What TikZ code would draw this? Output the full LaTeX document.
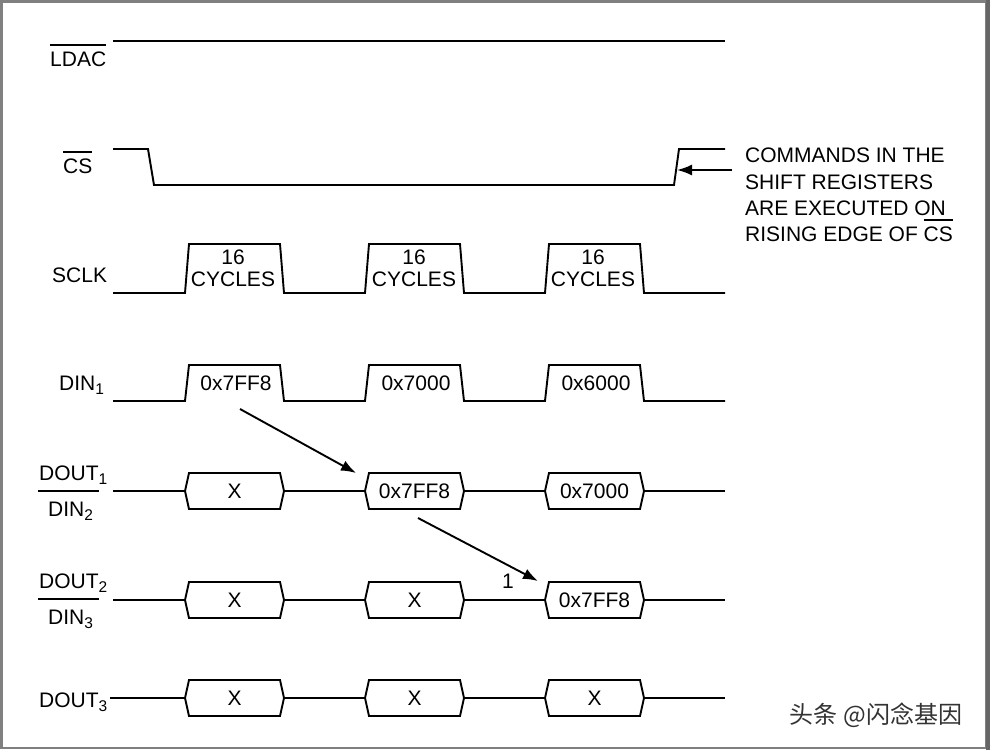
\documentclass[tikz,border=0pt]{standalone}
\usepackage{fontspec}
\setmainfont{Liberation Sans}
\newfontfamily\cjk{Noto Sans CJK SC}
\usetikzlibrary{arrows.meta}
\newcommand\sbs[1]{\raisebox{-4pt}{\fontsize{15.5}{15.5}\selectfont #1}}
\newcommand\ovl[1]{\setbox0\hbox{#1}\rlap{\raisebox{20.2pt}{\rule{\wd0}{1.8pt}}}\box0}
\begin{document}
\begin{tikzpicture}[x=1pt,y=-1pt,
  sig/.style={line width=1.9pt,line join=miter},
  lbl/.style={font=\fontsize{21}{25}\selectfont,inner sep=0pt},
  signame/.style={font=\fontsize{21}{25}\selectfont,inner sep=0pt,anchor=base west},
  arr/.style={line width=1.9pt,-{Latex[length=15pt,width=11pt]}}]
\useasboundingbox (0,0) rectangle (990,750);
\fill[white] (0,0) rectangle (990,750);
\draw[line width=2.5pt,black!50] (1.5,1.5) rectangle (986,748);
\fill[black!60] (986,0) rectangle (990,750);
\newcommand\hexbox[5]{\draw[sig] (#2,#4) -- (#2+4,#4-18) -- (#3-4,#4-18) -- (#3,#4) -- (#3-4,#4+18) -- (#2+4,#4+18) -- cycle;
  \node[lbl] (#1) at ({(#2+#3)/2},#4) {#5};}

% labels
\node[signame] (ldac) at (50,66) {\ovl{LDAC}};
\node[signame] (cs) at (63,173) {\ovl{CS}};
\node[signame] (sclk) at (52,282) {SCLK};
\node[signame] (din1) at (59,390) {DIN\sbs{1}};
\node[signame] (dout1) at (39,480) {DOUT\sbs{1}};
\node[signame] (din2) at (48,516) {DIN\sbs{2}};
\node[signame] (dout2) at (39,588) {DOUT\sbs{2}};
\node[signame] (din3) at (48,624) {DIN\sbs{3}};
\node[signame] (dout3) at (39,707) {DOUT\sbs{3}};
\draw[sig] (38,491) -- (99,491);
\draw[sig] (38,599) -- (99,599);

% LDAC
\draw[sig] (113,41) -- (725,41);
% CS
\draw[sig] (113,149) -- (148,149) -- (154,185) -- (674,185) -- (679,149) -- (725,149);
\coordinate (csedge) at (677,170);
\coordinate (csnote) at (732,170);
\draw[arr] (csnote) -- (csedge);
\node[signame] (n1) at (745,162) {COMMANDS IN THE};
\node[signame] (n2) at (745,189) {SHIFT REGISTERS};
\node[signame] (n3) at (745,215) {ARE EXECUTED ON};
\node[signame] (n4) at (745,241) {RISING EDGE OF \ovl{CS}};

% SCLK
\draw[sig] (113,293) -- (185,293) -- (189,244) -- (280,244) -- (284,293)
  -- (365,293) -- (369,244) -- (460,244) -- (464,293)
  -- (545,293) -- (549,244) -- (640,244) -- (644,293) -- (725,293);
\foreach \c/\n in {233/s1,414/s2,593/s3}{
  \node[lbl,anchor=base] (\n a) at (\c,264) {16};
  \node[lbl,anchor=base] (\n b) at (\c,286) {CYCLES};
}

% DIN1
\draw[sig] (113,401) -- (185,401) -- (189,365) -- (280,365) -- (284,401)
  -- (365,401) -- (369,365) -- (460,365) -- (464,401)
  -- (545,401) -- (549,365) -- (640,365) -- (644,401) -- (725,401);
\node[lbl,anchor=base] (d1a) at (236,390) {0x7FF8};
\node[lbl,anchor=base] (d1b) at (416,390) {0x7000};
\node[lbl,anchor=base] (d1c) at (596,390) {0x6000};

% DOUT1 / DIN2
\draw[sig] (113,491) -- (185,491) (284,491) -- (365,491) (464,491) -- (545,491) (644,491) -- (725,491);
\hexbox{o1a}{185}{284}{491}{X}
\hexbox{o1b}{365}{464}{491}{0x7FF8}
\hexbox{o1c}{545}{644}{491}{0x7000}

% DOUT2 / DIN3
\draw[sig] (113,600) -- (185,600) (284,600) -- (365,600) (464,600) -- (545,600) (644,600) -- (725,600);
\hexbox{o2a}{185}{284}{600}{X}
\hexbox{o2b}{365}{464}{600}{X}
\hexbox{o2c}{545}{644}{600}{0x7FF8}

% DOUT3
\draw[sig] (110,698) -- (185,698) (284,698) -- (365,698) (464,698) -- (545,698) (644,698) -- (725,698);
\hexbox{o3a}{185}{284}{698}{X}
\hexbox{o3b}{365}{464}{698}{X}
\hexbox{o3c}{545}{644}{698}{X}

% arrows
\coordinate (a1s) at (240,409);
\coordinate (a1e) at (356,473);
\coordinate (a2s) at (418,518);
\coordinate (a2e) at (538,581);
\draw[arr] (a1s) -- (a1e);
\draw[arr] (a2s) -- (a2e);
\node[lbl] (one) at (508,581) {1};

% watermark
\node[inner sep=0pt,font=\cjk\fontsize{24}{24}\selectfont,text=black!80] (wm) at (876,715) {头条 @闪念基因};
\end{tikzpicture}
\end{document}
